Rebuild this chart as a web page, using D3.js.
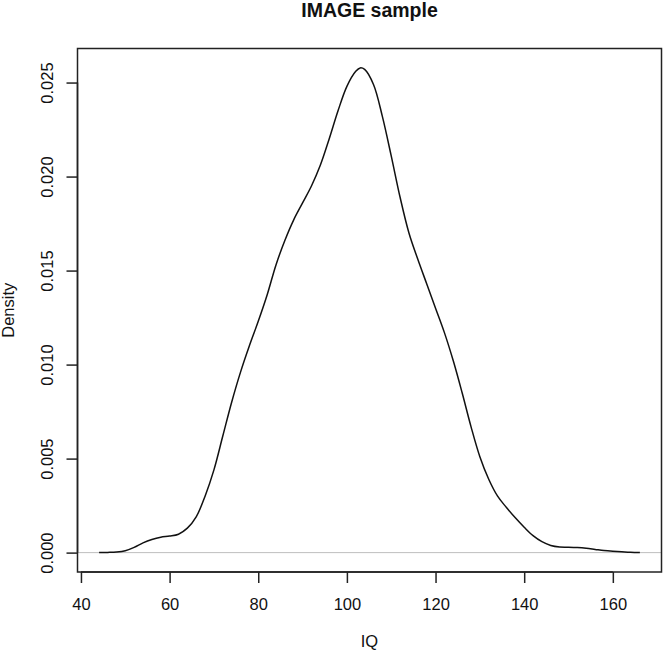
<!DOCTYPE html>
<html>
<head>
<meta charset="utf-8">
<script src="https://cdn.jsdelivr.net/npm/d3@7"></script>
<style>
  html, body { margin: 0; padding: 0; background: #fff; }
  svg { display: block; font-family: "Liberation Sans", Arial, Helvetica, sans-serif; }
</style>
</head>
<body>
<div id="chart-area"></div>
<script>
// density estimate of IQ
const iqValues = [44.1, 46, 48, 50, 52, 54, 56, 58, 60, 62, 64, 66, 68, 70, 72, 74, 76, 78, 80, 82, 84, 86,
    88, 90, 92, 94, 96, 98, 100, 102, 103, 104, 106, 108, 110, 112, 114, 116, 118, 120, 122, 124, 126,
    128, 130, 132, 134, 136, 138, 140, 142, 144, 146, 148, 150, 152, 154, 156, 158, 160, 162, 164, 166.1];
const densityValues = [0, 0.00001, 0.00003, 0.0001, 0.00028, 0.00052, 0.0007, 0.00082, 0.00088, 0.00098,
    0.0013, 0.0019, 0.0030, 0.0044, 0.0062, 0.0080, 0.0096, 0.0110, 0.0123, 0.0137, 0.0153, 0.0166,
    0.0177, 0.0186, 0.0195, 0.0206, 0.0220, 0.0235, 0.0248, 0.0256, 0.02578, 0.0257, 0.0249, 0.0232,
    0.0211, 0.0189, 0.0170, 0.0156, 0.0143, 0.0130, 0.0117, 0.0102, 0.0085, 0.0067, 0.0051, 0.0039,
    0.0030, 0.0024, 0.00185, 0.00135, 0.0009, 0.00058, 0.00038, 0.0003, 0.00029, 0.00027, 0.00023,
    0.00017, 0.00011, 0.00007, 0.00004, 0.00002, 0];
const xTicks = [40, 60, 80, 100, 120, 140, 160];
const yTicks = [0, 0.005, 0.01, 0.015, 0.02, 0.025];

const chartTitle = "IMAGE sample";
const xTitle = "IQ";
const yTitle = "Density";

function renderDensity() {
    const svgWidth = 663;
    const svgHeight = 651;
    const box = { left: 77.5, right: 661.5, top: 48.5, bottom: 572 };

    const points = iqValues.map((x, i) => ({ x: x, y: densityValues[i] }));

    // R style: 4% padding on each side of the data range
    const xMin = d3.min(iqValues), xMax = d3.max(iqValues);
    const yMax = d3.max(densityValues);
    const xPad = (xMax - xMin) * 0.04;
    const yPad = yMax * 0.04;

    const xScale = d3.scaleLinear()
        .domain([xMin - xPad, xMax + xPad])
        .range([box.left, box.right]);
    const yScale = d3.scaleLinear()
        .domain([-yPad, yMax + yPad])
        .range([box.bottom, box.top]);

    const svg = d3.select("#chart-area")
        .append("svg")
        .attr("width", svgWidth)
        .attr("height", svgHeight);

    // zero line
    svg.append("line")
        .attr("x1", box.left)
        .attr("x2", box.right)
        .attr("y1", yScale(0))
        .attr("y2", yScale(0))
        .attr("stroke", "#bebebe")
        .attr("stroke-width", 1);

    const line = d3.line()
        .x(d => xScale(d.x))
        .y(d => yScale(d.y))
        .curve(d3.curveCatmullRom.alpha(0.5));

    svg.append("path")
        .datum(points)
        .attr("d", line)
        .attr("fill", "none")
        .attr("stroke", "#111")
        .attr("stroke-width", 1.5);

    // plot box
    svg.append("rect")
        .attr("x", box.left)
        .attr("y", box.top)
        .attr("width", box.right - box.left)
        .attr("height", box.bottom - box.top)
        .attr("fill", "none")
        .attr("stroke", "#222")
        .attr("stroke-width", 1.5);

    // x axis
    const xAxis = svg.append("g")
        .attr("class", "x-axis")
        .attr("transform", `translate(0, ${box.bottom})`)
        .call(d3.axisBottom(xScale)
            .tickValues(xTicks)
            .tickSize(11)
            .tickPadding(15)
            .tickFormat(d3.format("d")));
    xAxis.select(".domain")
        .attr("d", `M${xScale(xTicks[0])},0H${xScale(xTicks[xTicks.length - 1])}`)
        .attr("stroke", "#222")
        .attr("stroke-width", 1.5);
    xAxis.selectAll(".tick line").attr("stroke", "#222").attr("stroke-width", 1.5);
    xAxis.selectAll("text")
        .attr("fill", "#111")
        .style("font-size", "16.5px");

    // y axis
    const yAxis = svg.append("g")
        .attr("class", "y-axis")
        .attr("transform", `translate(${box.left}, 0)`)
        .call(d3.axisLeft(yScale)
            .tickValues(yTicks)
            .tickSize(11)
            .tickFormat(d => d.toFixed(3)));
    yAxis.select(".domain")
        .attr("d", `M0,${yScale(yTicks[0])}V${yScale(yTicks[yTicks.length - 1])}`)
        .attr("stroke", "#222")
        .attr("stroke-width", 1.5);
    yAxis.selectAll(".tick line").attr("stroke", "#222").attr("stroke-width", 1.5);
    yAxis.selectAll("text")
        .attr("x", null)
        .attr("dy", null)
        .attr("transform", "translate(-24.5, 0) rotate(-90)")
        .attr("text-anchor", "middle")
        .attr("fill", "#111")
        .style("font-size", "16.5px");

    // titles
    svg.append("text")
        .attr("x", (box.left + box.right) / 2)
        .attr("y", 17)
        .attr("text-anchor", "middle")
        .style("font-weight", "bold")
        .style("font-size", "19.5px")
        .attr("fill", "#111")
        .text(chartTitle);

    svg.append("text")
        .attr("x", (box.left + box.right) / 2)
        .attr("y", 647)
        .attr("text-anchor", "middle")
        .style("font-size", "16.5px")
        .attr("fill", "#111")
        .text(xTitle);

    svg.append("text")
        .attr("transform", `translate(14, ${(box.top + box.bottom) / 2}) rotate(-90)`)
        .attr("text-anchor", "middle")
        .style("font-size", "16.5px")
        .attr("fill", "#111")
        .text(yTitle);
}

renderDensity();
</script>
</body>
</html>
